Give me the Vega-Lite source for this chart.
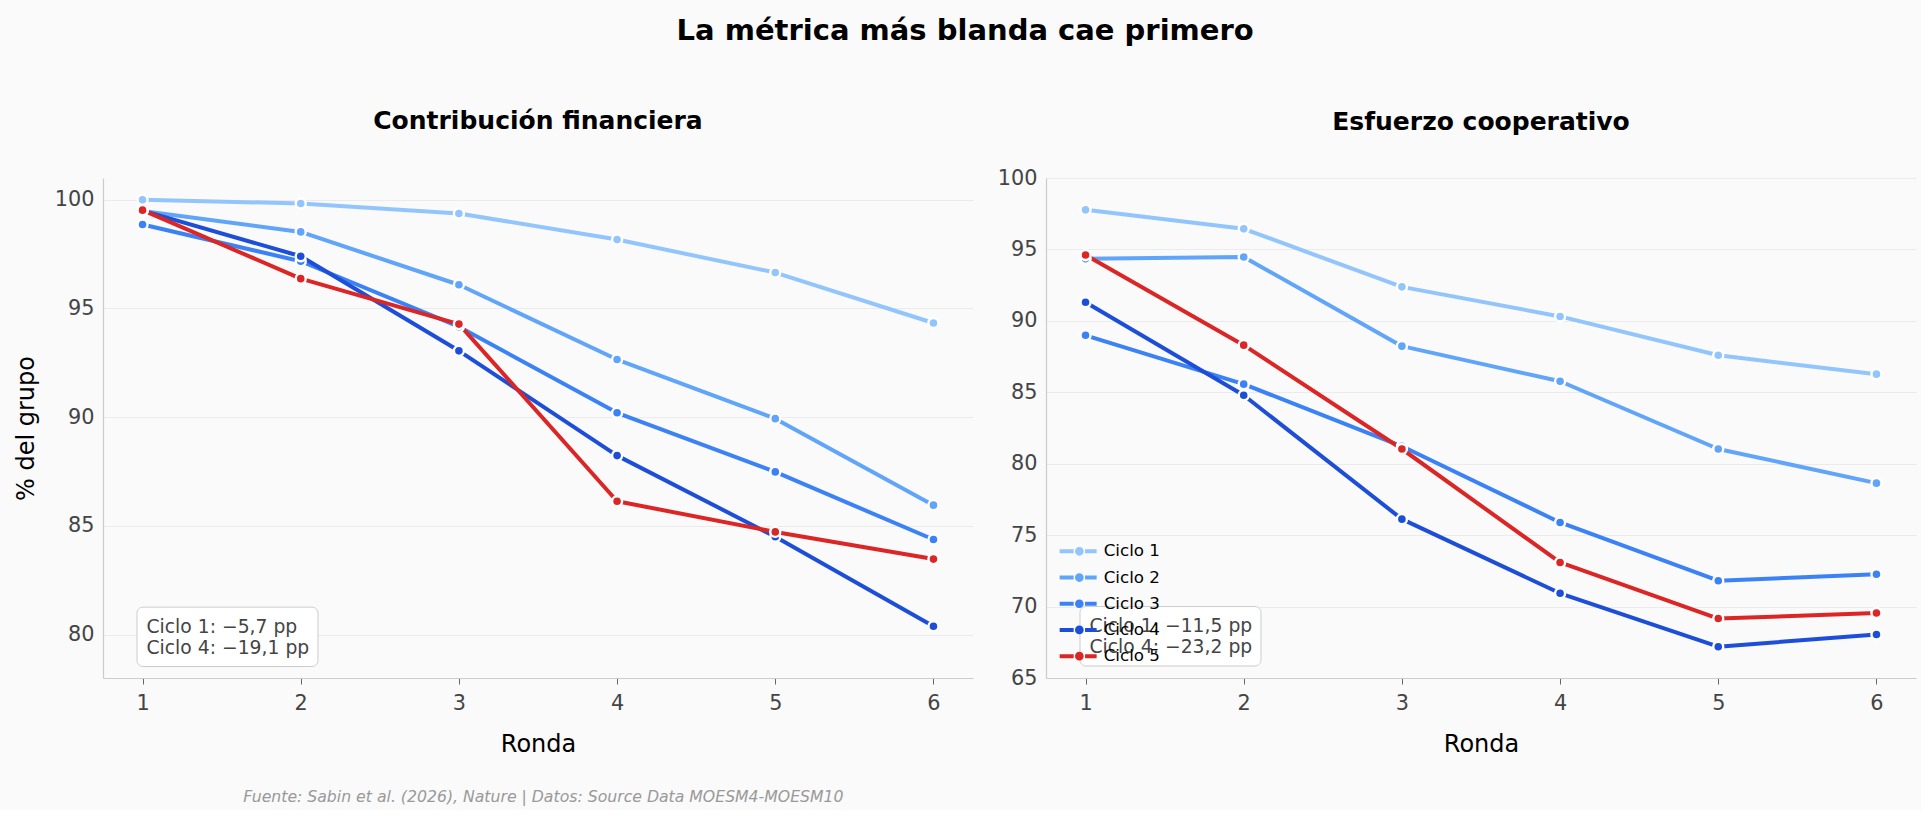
{
  "$schema": "https://vega.github.io/schema/vega-lite/v6.json",
  "background": "#fafafa",
  "padding": {"left": 14, "top": 17, "right": 5, "bottom": 5},
  "title": {
    "text": "La métrica más blanda cae primero",
    "fontSize": 29,
    "fontWeight": "bold",
    "color": "#000000",
    "anchor": "middle",
    "offset": 63
  },
  "datasets": {
    "series": [
      {"panel": "fin", "ronda": 1, "ciclo": "Ciclo 1", "valor": 100.0},
      {"panel": "fin", "ronda": 2, "ciclo": "Ciclo 1", "valor": 99.83},
      {"panel": "fin", "ronda": 3, "ciclo": "Ciclo 1", "valor": 99.37},
      {"panel": "fin", "ronda": 4, "ciclo": "Ciclo 1", "valor": 98.17},
      {"panel": "fin", "ronda": 5, "ciclo": "Ciclo 1", "valor": 96.65},
      {"panel": "fin", "ronda": 6, "ciclo": "Ciclo 1", "valor": 94.33},
      {"panel": "fin", "ronda": 1, "ciclo": "Ciclo 2", "valor": 99.48},
      {"panel": "fin", "ronda": 2, "ciclo": "Ciclo 2", "valor": 98.52},
      {"panel": "fin", "ronda": 3, "ciclo": "Ciclo 2", "valor": 96.09},
      {"panel": "fin", "ronda": 4, "ciclo": "Ciclo 2", "valor": 92.65},
      {"panel": "fin", "ronda": 5, "ciclo": "Ciclo 2", "valor": 89.93},
      {"panel": "fin", "ronda": 6, "ciclo": "Ciclo 2", "valor": 85.95},
      {"panel": "fin", "ronda": 1, "ciclo": "Ciclo 3", "valor": 98.86},
      {"panel": "fin", "ronda": 2, "ciclo": "Ciclo 3", "valor": 97.17},
      {"panel": "fin", "ronda": 3, "ciclo": "Ciclo 3", "valor": 94.16},
      {"panel": "fin", "ronda": 4, "ciclo": "Ciclo 3", "valor": 90.2},
      {"panel": "fin", "ronda": 5, "ciclo": "Ciclo 3", "valor": 87.48},
      {"panel": "fin", "ronda": 6, "ciclo": "Ciclo 3", "valor": 84.37},
      {"panel": "fin", "ronda": 1, "ciclo": "Ciclo 4", "valor": 99.5},
      {"panel": "fin", "ronda": 2, "ciclo": "Ciclo 4", "valor": 97.4},
      {"panel": "fin", "ronda": 3, "ciclo": "Ciclo 4", "valor": 93.05},
      {"panel": "fin", "ronda": 4, "ciclo": "Ciclo 4", "valor": 88.23},
      {"panel": "fin", "ronda": 5, "ciclo": "Ciclo 4", "valor": 84.5},
      {"panel": "fin", "ronda": 6, "ciclo": "Ciclo 4", "valor": 80.38},
      {"panel": "fin", "ronda": 1, "ciclo": "Ciclo 5", "valor": 99.52},
      {"panel": "fin", "ronda": 2, "ciclo": "Ciclo 5", "valor": 96.37},
      {"panel": "fin", "ronda": 3, "ciclo": "Ciclo 5", "valor": 94.28},
      {"panel": "fin", "ronda": 4, "ciclo": "Ciclo 5", "valor": 86.13},
      {"panel": "fin", "ronda": 5, "ciclo": "Ciclo 5", "valor": 84.72},
      {"panel": "fin", "ronda": 6, "ciclo": "Ciclo 5", "valor": 83.47},
      {"panel": "coop", "ronda": 1, "ciclo": "Ciclo 1", "valor": 97.77},
      {"panel": "coop", "ronda": 2, "ciclo": "Ciclo 1", "valor": 96.44},
      {"panel": "coop", "ronda": 3, "ciclo": "Ciclo 1", "valor": 92.38},
      {"panel": "coop", "ronda": 4, "ciclo": "Ciclo 1", "valor": 90.31},
      {"panel": "coop", "ronda": 5, "ciclo": "Ciclo 1", "valor": 87.59},
      {"panel": "coop", "ronda": 6, "ciclo": "Ciclo 1", "valor": 86.27},
      {"panel": "coop", "ronda": 1, "ciclo": "Ciclo 2", "valor": 94.34},
      {"panel": "coop", "ronda": 2, "ciclo": "Ciclo 2", "valor": 94.47},
      {"panel": "coop", "ronda": 3, "ciclo": "Ciclo 2", "valor": 88.23},
      {"panel": "coop", "ronda": 4, "ciclo": "Ciclo 2", "valor": 85.77},
      {"panel": "coop", "ronda": 5, "ciclo": "Ciclo 2", "valor": 81.03},
      {"panel": "coop", "ronda": 6, "ciclo": "Ciclo 2", "valor": 78.64},
      {"panel": "coop", "ronda": 1, "ciclo": "Ciclo 3", "valor": 88.99},
      {"panel": "coop", "ronda": 2, "ciclo": "Ciclo 3", "valor": 85.57},
      {"panel": "coop", "ronda": 3, "ciclo": "Ciclo 3", "valor": 81.22},
      {"panel": "coop", "ronda": 4, "ciclo": "Ciclo 3", "valor": 75.89},
      {"panel": "coop", "ronda": 5, "ciclo": "Ciclo 3", "valor": 71.81},
      {"panel": "coop", "ronda": 6, "ciclo": "Ciclo 3", "valor": 72.26},
      {"panel": "coop", "ronda": 1, "ciclo": "Ciclo 4", "valor": 91.3},
      {"panel": "coop", "ronda": 2, "ciclo": "Ciclo 4", "valor": 84.79},
      {"panel": "coop", "ronda": 3, "ciclo": "Ciclo 4", "valor": 76.12},
      {"panel": "coop", "ronda": 4, "ciclo": "Ciclo 4", "valor": 70.93},
      {"panel": "coop", "ronda": 5, "ciclo": "Ciclo 4", "valor": 67.19},
      {"panel": "coop", "ronda": 6, "ciclo": "Ciclo 4", "valor": 68.05},
      {"panel": "coop", "ronda": 1, "ciclo": "Ciclo 5", "valor": 94.61},
      {"panel": "coop", "ronda": 2, "ciclo": "Ciclo 5", "valor": 88.3},
      {"panel": "coop", "ronda": 3, "ciclo": "Ciclo 5", "valor": 81.03},
      {"panel": "coop", "ronda": 4, "ciclo": "Ciclo 5", "valor": 73.09},
      {"panel": "coop", "ronda": 5, "ciclo": "Ciclo 5", "valor": 69.16},
      {"panel": "coop", "ronda": 6, "ciclo": "Ciclo 5", "valor": 69.55}
    ],
    "notas": [
      {"panel": "fin", "texto": "Ciclo 1: −5,7 pp\nCiclo 4: −19,1 pp"},
      {"panel": "coop", "texto": "Ciclo 1: −11,5 pp\nCiclo 4: −23,2 pp"}
    ]
  },
  "vconcat": [
    {
      "title": {
        "text": "Fuente: Sabin et al. (2026), Nature | Datos: Source Data MOESM4-MOESM10",
        "orient": "bottom",
        "anchor": "start",
        "frame": "bounds",
        "dx": 229,
        "offset": 33,
        "fontSize": 15.7,
        "fontStyle": "italic",
        "fontWeight": "normal",
        "color": "#999999"
      },
      "spacing": 24,
      "resolve": {
        "scale": {"fill": "independent", "stroke": "independent"},
        "legend": {"fill": "independent", "stroke": "independent"}
      },
      "hconcat": [
        {
          "width": 870,
          "height": 500,
          "title": {"text": "Contribución financiera", "fontSize": 25, "fontWeight": "bold", "color": "#000000", "frame": "group", "anchor": "middle", "offset": 44},
          "layer": [
            {
              "data": {"name": "notas"},
              "transform": [{"filter": "datum.panel === 'fin'"}],
              "mark": {"type": "rect", "fill": "#ffffff", "stroke": "#cccccc", "strokeWidth": 1, "cornerRadius": 6},
              "encoding": {
                "x": {"datum": 0.965, "type": "quantitative"},
                "x2": {"datum": 2.109},
                "y": {"datum": 81.26, "type": "quantitative"},
                "y2": {"datum": 78.53}
              }
            },
            {
              "data": {"name": "notas"},
              "transform": [{"filter": "datum.panel === 'fin'"}],
              "mark": {"type": "text", "align": "left", "baseline": "top", "lineBreak": "\n", "lineHeight": 21, "fontSize": 18.75, "color": "#444444"},
              "encoding": {
                "x": {"datum": 1.025, "type": "quantitative"},
                "y": {"datum": 80.78, "type": "quantitative"},
                "text": {"field": "texto"}
              }
            },
            {
              "data": {"name": "series"},
              "transform": [{"filter": "datum.panel === 'fin'"}],
              "mark": {"type": "line", "strokeWidth": 4, "strokeCap": "round", "strokeJoin": "round"},
              "encoding": {
                "x": {"field": "ronda", "type": "quantitative", "scale": {"domain": [0.75, 6.25], "nice": false, "zero": false}, "axis": {"values": [1, 2, 3, 4, 5, 6], "format": "d", "title": "Ronda", "labelFlush": false}},
                "y": {"field": "valor", "type": "quantitative", "scale": {"domain": [78, 101], "nice": false, "zero": false}, "axis": {"values": [80, 85, 90, 95, 100], "title": "% del grupo"}},
                "stroke": {"field": "ciclo", "type": "nominal", "scale": {"range": ["#93c5fd", "#60a5fa", "#3b82f6", "#1d4ed8", "#dc2626"]}, "legend": null}
              }
            },
            {
              "data": {"name": "series"},
              "transform": [{"filter": "datum.panel === 'fin'"}],
              "mark": {"type": "point", "filled": true, "size": 100, "opacity": 1, "stroke": "#ffffff", "strokeWidth": 2.4},
              "encoding": {
                "x": {"field": "ronda", "type": "quantitative"},
                "y": {"field": "valor", "type": "quantitative"},
                "fill": {"field": "ciclo", "type": "nominal", "scale": {"domain": ["Ciclo 1", "Ciclo 2", "Ciclo 3", "Ciclo 4", "Ciclo 5"], "range": ["#93c5fd", "#60a5fa", "#3b82f6", "#1d4ed8", "#dc2626"]}, "legend": null}
              }
            }
          ]
        },
        {
          "width": 870,
          "height": 500,
          "title": {"text": "Esfuerzo cooperativo", "fontSize": 25, "fontWeight": "bold", "color": "#000000", "frame": "group", "anchor": "middle", "offset": 32},
          "layer": [
            {
              "data": {"name": "notas"},
              "transform": [{"filter": "datum.panel === 'coop'"}],
              "mark": {"type": "rect", "fill": "#ffffff", "stroke": "#cccccc", "strokeWidth": 1, "cornerRadius": 6},
              "encoding": {
                "x": {"datum": 0.965, "type": "quantitative"},
                "x2": {"datum": 2.109},
                "y": {"datum": 70.0, "type": "quantitative"},
                "y2": {"datum": 65.84}
              }
            },
            {
              "data": {"name": "notas"},
              "transform": [{"filter": "datum.panel === 'coop'"}],
              "mark": {"type": "text", "align": "left", "baseline": "top", "lineBreak": "\n", "lineHeight": 21, "fontSize": 18.75, "color": "#444444"},
              "encoding": {
                "x": {"datum": 1.025, "type": "quantitative"},
                "y": {"datum": 69.27, "type": "quantitative"},
                "text": {"field": "texto"}
              }
            },
            {
              "data": {"name": "series"},
              "transform": [{"filter": "datum.panel === 'coop'"}],
              "mark": {"type": "line", "strokeWidth": 4, "strokeCap": "round", "strokeJoin": "round"},
              "encoding": {
                "x": {"field": "ronda", "type": "quantitative", "scale": {"domain": [0.75, 6.25], "nice": false, "zero": false}, "axis": {"values": [1, 2, 3, 4, 5, 6], "format": "d", "title": "Ronda", "labelFlush": false}},
                "y": {"field": "valor", "type": "quantitative", "scale": {"domain": [65, 100], "nice": false, "zero": false}, "axis": {"values": [65, 70, 75, 80, 85, 90, 95, 100], "title": null}},
                "stroke": {"field": "ciclo", "type": "nominal", "scale": {"range": ["#93c5fd", "#60a5fa", "#3b82f6", "#1d4ed8", "#dc2626"]}, "legend": null}
              }
            },
            {
              "data": {"name": "series"},
              "transform": [{"filter": "datum.panel === 'coop'"}],
              "mark": {"type": "point", "filled": true, "size": 100, "opacity": 1, "stroke": "#ffffff", "strokeWidth": 2.4},
              "encoding": {
                "x": {"field": "ronda", "type": "quantitative"},
                "y": {"field": "valor", "type": "quantitative"},
                "fill": {
                  "field": "ciclo",
                  "type": "nominal",
                  "scale": {"domain": ["Ciclo 1", "Ciclo 2", "Ciclo 3", "Ciclo 4", "Ciclo 5"], "range": ["#93c5fd", "#60a5fa", "#3b82f6", "#1d4ed8", "#dc2626"]},
                  "legend": {
                    "title": null,
                    "orient": "bottom-left",
                    "offset": 13.5,
                    "padding": 0,
                    "symbolType": "M-1.74,-0.4H1.06V0.4H-1.74Z M3.34,-0.4H5.66V0.4H3.34Z M3.07,0A0.87,0.87,0,1,1,1.33,0A0.87,0.87,0,1,1,3.07,0Z",
                    "symbolSize": 100,
                    "symbolStrokeWidth": 0,
                    "symbolOpacity": 1,
                    "labelFontSize": 16.7,
                    "labelColor": "#000000",
                    "labelOffset": 27,
                    "rowPadding": 8.2
                  }
                }
              }
            }
          ]
        }
      ]
    }
  ],
  "config": {
    "font": "DejaVu Sans",
    "view": {"stroke": null},
    "axis": {
      "labelFont": "DejaVu Sans",
      "labelFontSize": 20.8,
      "labelColor": "#444444",
      "titleFont": "DejaVu Sans",
      "titleFontSize": 24,
      "titleFontWeight": "normal",
      "titleColor": "#000000",
      "domainColor": "#cccccc",
      "domainWidth": 1.2,
      "gridColor": "#ebebeb",
      "gridWidth": 1,
      "tickColor": "#666666"
    },
    "axisX": {"grid": false, "ticks": true, "tickSize": 6, "labelPadding": 9, "titlePadding": 20},
    "axisY": {"ticks": false, "grid": true, "labelPadding": 9, "titlePadding": 16},
    "legend": {"labelFont": "DejaVu Sans"},
    "title": {"font": "DejaVu Sans"}
  }
}
